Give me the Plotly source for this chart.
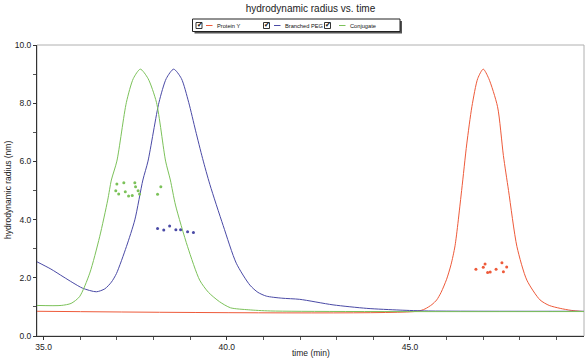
import plotly.graph_objects as go

# ---- data ----
protein_x = [34.82, 45.2, 45.41, 45.6, 45.73, 45.85, 46.0, 46.12, 46.23, 46.41, 46.55, 46.69, 46.85,
             47.0, 47.15, 47.39, 47.55, 47.69, 47.92, 48.19, 48.55, 48.8, 49.1, 49.4, 49.75]
protein_y = [0.85, 0.85, 0.93, 1.08, 1.24, 1.5, 1.95, 2.45, 3.1, 5.0, 6.6, 7.88, 8.85,
             9.17, 8.85, 7.88, 6.2, 5.0, 3.07, 1.92, 1.24, 1.05, 0.95, 0.88, 0.84]

peg_x = [34.82, 35.2, 35.53, 35.8, 36.07, 36.44, 36.67, 36.85, 36.99, 37.26, 37.49, 37.71, 37.85,
         38.15, 38.35, 38.55, 38.76, 38.96, 39.15, 39.34, 39.54, 39.9, 40.26, 40.63, 40.85,
         41.08, 41.5, 41.99, 42.9, 43.82, 44.73, 45.5, 49.75]
peg_y = [2.55, 2.3, 2.04, 1.83, 1.64, 1.52, 1.62, 1.85, 2.15, 3.07, 3.99, 5.36, 6.01,
         8.03, 8.85, 9.17, 8.85, 8.03, 7.05, 6.1, 5.2, 3.8, 2.5, 1.75, 1.5,
         1.37, 1.3, 1.26, 1.07, 0.95, 0.89, 0.86, 0.85]

conj_x = [34.82, 35.48, 35.75, 35.98, 36.26, 36.53, 36.75, 36.85, 37.0, 37.26, 37.45, 37.64, 37.85,
          38.08, 38.33, 38.46, 38.6, 38.93, 39.26, 39.5, 39.8, 40.1, 40.6, 41.2, 49.75]
conj_y = [1.05, 1.05, 1.12, 1.35, 2.16, 3.41, 4.67, 5.36, 6.01, 8.03, 8.85, 9.17, 8.85,
          8.03, 6.01, 5.36, 4.5, 3.07, 1.92, 1.5, 1.18, 0.97, 0.9, 0.86, 0.84]

conj_pts_x = [37.0, 37.19, 37.49, 37.51, 36.97, 37.05, 37.23, 37.32, 37.42, 37.58, 37.62, 38.2, 38.11]
conj_pts_y = [5.22, 5.27, 5.27, 5.13, 4.99, 4.88, 4.96, 4.81, 4.83, 4.99, 4.88, 5.13, 4.87]

peg_pts_x = [38.11, 38.28, 38.44, 38.61, 38.74, 38.93, 39.09]
peg_pts_y = [3.69, 3.64, 3.78, 3.65, 3.65, 3.58, 3.56]

prot_pts_x = [46.80, 47.0, 47.05, 47.12, 47.19, 47.35, 47.51, 47.55, 47.64]
prot_pts_y = [2.29, 2.36, 2.47, 2.18, 2.2, 2.29, 2.52, 2.21, 2.37]

series_names = ["Protein Y", "Branched PEG", "Conjugate"]
x_tickvals = [35, 40, 45]
y_tickvals = [0, 2, 4, 6, 8, 10]

RED = "#EE5A3A"
BLUE = "#4A4AA6"
GREEN = "#7CC25A"
FONT = "Liberation Sans, Arial, sans-serif"
TXT = "#222222"

fig = go.Figure()
fig.add_trace(go.Scatter(x=protein_x, y=protein_y, mode="lines", line=dict(color=RED, width=1, shape="spline", smoothing=0.7), name=series_names[0]))
fig.add_trace(go.Scatter(x=peg_x, y=peg_y, mode="lines", line=dict(color=BLUE, width=1, shape="spline", smoothing=0.7), name=series_names[1]))
fig.add_trace(go.Scatter(x=conj_x, y=conj_y, mode="lines", line=dict(color=GREEN, width=1, shape="spline", smoothing=0.7), name=series_names[2]))
fig.add_trace(go.Scatter(x=conj_pts_x, y=conj_pts_y, mode="markers", marker=dict(color=GREEN, size=3), showlegend=False))
fig.add_trace(go.Scatter(x=peg_pts_x, y=peg_pts_y, mode="markers", marker=dict(color=BLUE, size=3), showlegend=False))
fig.add_trace(go.Scatter(x=prot_pts_x, y=prot_pts_y, mode="markers", marker=dict(color=RED, size=3), showlegend=False))

L, R, T, B = 37, 2, 45, 25
W, H = 586, 361
pw, ph = W - L - R, H - T - B

def xp(px):
    return (px - L) / pw

def yp(py):
    return (H - B - py) / ph

shapes = [
    dict(type="rect", xref="paper", yref="paper", x0=0, y0=0, x1=1, y1=1,
         line=dict(color="#b0b0b0", width=1), layer="below"),
    # legend shadow + box
    dict(type="rect", xref="paper", yref="paper", x0=xp(194.5), y0=yp(33.5), x1=xp(402), y1=yp(21),
         line=dict(width=0), fillcolor="#555555"),
    dict(type="rect", xref="paper", yref="paper", x0=xp(192.5), y0=yp(31.5), x1=xp(400), y1=yp(19),
         line=dict(color="#222222", width=1), fillcolor="white"),
]
annotations = []
items = [(196, 206, 214.5, RED), (263.5, 274, 282.5, BLUE), (324.5, 339, 348, GREEN)]
for (cb, ln, tx, col), name in zip(items, series_names):
    shapes.append(dict(type="rect", xref="paper", yref="paper", x0=xp(cb), y0=yp(28.5), x1=xp(cb + 6), y1=yp(22.5),
                       line=dict(color="#333333", width=1), fillcolor="white"))
    shapes.append(dict(type="line", xref="paper", yref="paper", x0=xp(ln), y0=yp(25.5), x1=xp(ln + 6.5), y1=yp(25.5),
                       line=dict(color=col, width=1)))
    annotations.append(dict(text="\u2714", xref="paper", yref="paper", x=xp(cb + 3.5), y=yp(25.2),
                            xanchor="center", yanchor="middle", showarrow=False,
                            font=dict(size=7, color="#111111", family="DejaVu Sans")))
    annotations.append(dict(text=name, xref="paper", yref="paper", x=xp(tx), y=yp(25.5),
                            xanchor="left", yanchor="middle", showarrow=False,
                            font=dict(size=5.7, color="#111111", family=FONT)))

# axis titles
annotations.append(dict(text="time (min)", xref="paper", yref="paper", x=0.5, y=yp(353),
                        xanchor="center", yanchor="middle", showarrow=False,
                        font=dict(size=8.5, color=TXT, family=FONT)))
annotations.append(dict(text="hydrodynamic radius (nm)", xref="paper", yref="paper", x=xp(7.5), y=0.5,
                        xanchor="center", yanchor="middle", showarrow=False, textangle=-90,
                        font=dict(size=8.5, color=TXT, family=FONT)))

fig.update_layout(
    width=W, height=H,
    margin=dict(l=L, r=R, t=T, b=B),
    paper_bgcolor="white", plot_bgcolor="white",
    showlegend=False,
    title=dict(text="hydrodynamic radius vs. time", x=0.5, xanchor="center", xref="paper",
               y=1 - 8 / H, yanchor="middle", font=dict(size=10, color=TXT, family=FONT)),
    font=dict(family=FONT, size=9, color=TXT),
    shapes=shapes,
    annotations=annotations,
    xaxis=dict(range=[34.82, 49.75], tickvals=x_tickvals, ticktext=[f"{v:.1f}" for v in x_tickvals],
               showgrid=False, zeroline=False, showline=True, linecolor="#333333", linewidth=1,
               ticks="outside", ticklen=3, tickcolor="#333333",
               minor=dict(dtick=1, tick0=35, ticks="outside", ticklen=3, tickcolor="#555555"),
               tickfont=dict(size=8.5)),
    yaxis=dict(range=[0, 10], tickvals=y_tickvals, ticktext=[f"{v:.1f}" for v in y_tickvals],
               showgrid=False, zeroline=False, showline=True, linecolor="#333333", linewidth=1,
               ticks="outside", ticklen=3, tickcolor="#333333",
               minor=dict(dtick=1, tick0=0, ticks="outside", ticklen=3, tickcolor="#555555"),
               tickfont=dict(size=8.5)),
)

fig.write_html("out.html",
               config={"displayModeBar": False},
               post_script="document.body.style.margin='0';document.body.style.overflow='hidden';")
